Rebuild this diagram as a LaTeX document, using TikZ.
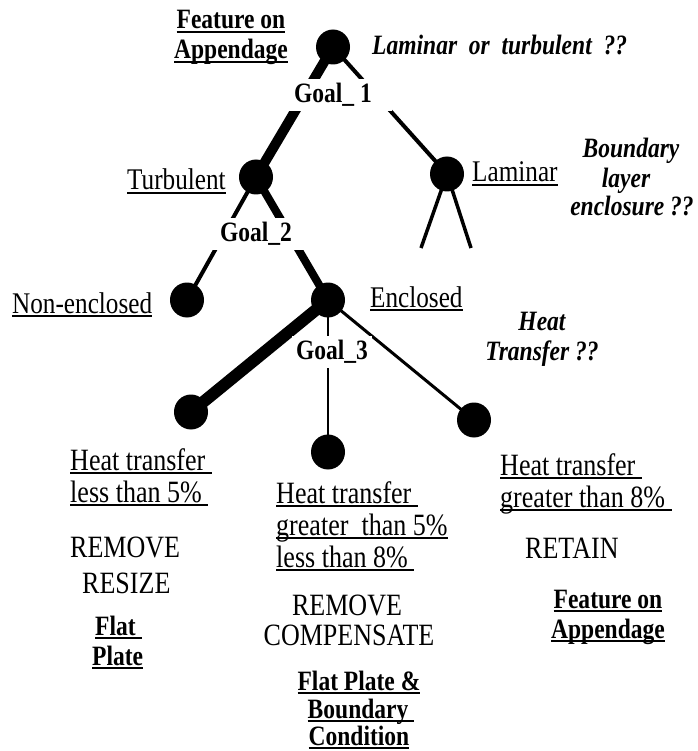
\documentclass[tikz,border=0pt]{standalone}
\usepackage{fontspec}
\setmainfont{Liberation Serif}[FakeStretch=0.84]
\newcommand\myul[1]{\leavevmode\setbox0\hbox{#1}\rlap{\rule[-4pt]{\wd0}{1.7pt}}\box0}
\usetikzlibrary{shapes.geometric}
\begin{document}
\begin{tikzpicture}[x=1pt,y=-1pt,
  dot/.style={ellipse,fill=black,minimum width=34pt,minimum height=35pt,inner sep=0pt},
  rt/.style={inner sep=0pt,font=\fontsize{31}{34}\selectfont},
  lt/.style={inner sep=0pt,font=\fontsize{30}{34}\selectfont},
  bt/.style={inner sep=0pt,font=\fontsize{28}{32}\selectfont\bfseries},
  bit/.style={inner sep=0pt,font=\fontsize{28}{32}\selectfont\bfseries\itshape},
  goal/.style={fill=white,inner ysep=4pt,font=\fontsize{28}{32}\selectfont\bfseries},
  edge/.style={draw=black}]
\useasboundingbox (0,0) rectangle (697,751);
% tree nodes
\node[dot] (root) at (333,47) {};
\node[dot] (turb) at (256,177) {};
\node[dot] (lam) at (447,174) {};
\node[dot] (nonenc) at (187,300) {};
\node[dot] (enc) at (328,300) {};
\node[dot] (leafL) at (191,412) {};
\node[dot] (leafM) at (328,452) {};
\node[dot] (leafR) at (474,420) {};
\coordinate (lamL) at (421,248);
\coordinate (lamR) at (471,248);
% connectors
\draw[edge,line width=10pt] (root.center) -- (turb.center);
\draw[edge,line width=4pt] (root.center) -- (lam.center);
\draw[edge,line width=4pt] (turb.center) -- (nonenc.center);
\draw[edge,line width=8pt] (turb.center) -- (enc.center);
\draw[edge,line width=3.5pt] (lam.center) -- (lamL);
\draw[edge,line width=3.5pt] (lam.center) -- (lamR);
\draw[edge,line width=12pt] (enc.center) -- (leafL.center);
\draw[edge,line width=2.5pt] (enc.center) -- (leafM.center);
\draw[edge,line width=3pt] (enc.center) -- (leafR.center);
% goal labels
\node[goal,inner xsep=20pt] (g1) at (333,95) {Goal\_ 1};
\node[goal,inner xsep=12pt] (g2) at (256,234) {Goal\_2};
\node[goal,inner xsep=4pt] (g3) at (332,352) {Goal\_3};
% top texts
\node[bt,anchor=base] (fa1) at (231,29) {\myul{Feature on}};
\node[bt,anchor=base] (fa2) at (231,59) {\myul{Appendage}};
\node[bit,anchor=base west] (q1) at (372,55) {Laminar\ \ or\ \ turbulent\ \ ??};
\node[lt,anchor=base west] (tturb) at (127,190) {\myul{Turbulent}};
\node[lt,anchor=base west] (tlam) at (472,182) {\myul{Laminar}};
\node[bit,anchor=base] (bq1) at (631,158) {Boundary};
\node[bit,anchor=base] (bq2) at (626,188) {layer};
\node[bit,anchor=base] (bq3) at (632,215) {enclosure ??};
\node[lt,anchor=base west] (tnon) at (12,313) {\myul{Non-enclosed}};
\node[lt,anchor=base west] (tenc) at (370,307) {\myul{Enclosed}};
\node[bit,anchor=base] (hq1) at (542,330) {Heat};
\node[bit,anchor=base] (hq2) at (542,360) {Transfer ??};
% left column
\node[rt,anchor=base west] (l1) at (70,470) {\myul{Heat transfer\ }};
\node[rt,anchor=base west] (l2) at (70,502) {\myul{less than 5\%\ }};
\node[rt,anchor=base west] (l3) at (70,557) {REMOVE};
\node[rt,anchor=base west] (l4) at (82,593) {RESIZE};
\node[bt,anchor=base west] (l5) at (95,635) {\myul{Flat\ }};
\node[bt,anchor=base west] (l6) at (92,665) {\myul{Plate}};
% middle column
\node[rt,anchor=base west] (m1) at (276,503) {\myul{Heat transfer\ }};
\node[rt,anchor=base west] (m2) at (276,535) {\myul{greater\ \ than 5\%}};
\node[rt,anchor=base west] (m3) at (276,567) {\myul{less than 8\%\ }};
\node[rt,anchor=base] (m4) at (347,615) {REMOVE};
\node[rt,anchor=base] (m5) at (349,645) {COMPENSATE};
\node[bt,anchor=base] (m6) at (359,690) {\myul{Flat Plate \&}};
\node[bt,anchor=base] (m7) at (361,718) {\myul{Boundary\ }};
\node[bt,anchor=base] (m8) at (359,745) {\myul{Condition}};
% right column
\node[rt,anchor=base west] (r1) at (500,475) {\myul{Heat transfer\ }};
\node[rt,anchor=base west] (r2) at (500,507) {\myul{greater than 8\%\ }};
\node[rt,anchor=base west] (r3) at (525,558) {RETAIN};
\node[bt,anchor=base] (r4) at (608,608) {\myul{Feature on}};
\node[bt,anchor=base] (r5) at (608,638) {\myul{Appendage}};
\end{tikzpicture}
\end{document}
